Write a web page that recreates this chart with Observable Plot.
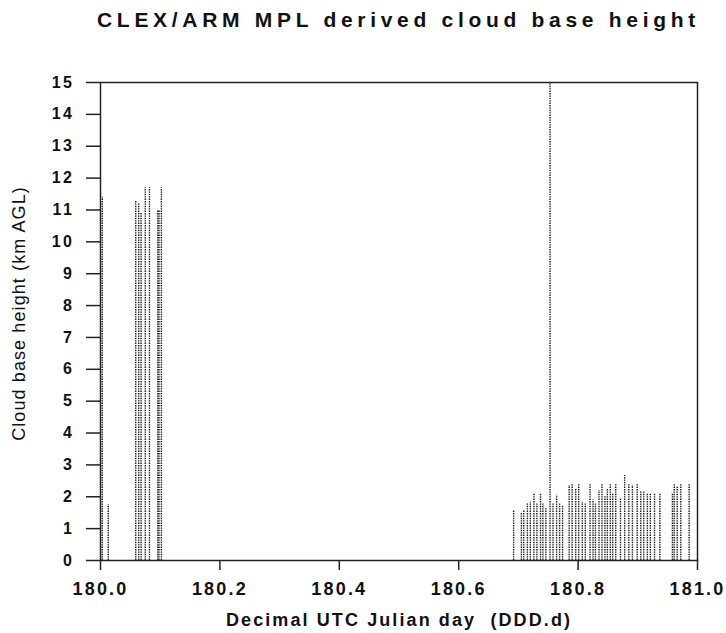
<!DOCTYPE html>
<html><head><meta charset="utf-8">
<script src="https://cdn.jsdelivr.net/npm/d3@7"></script>
<script src="https://cdn.jsdelivr.net/npm/@observablehq/plot@0.6"></script>
<style>
body{margin:0;background:#fff;font-family:"Liberation Sans",Arial,sans-serif;}
#wrap{position:relative;width:726px;height:633px;overflow:hidden;}
#title{position:absolute;left:97px;width:610px;top:8px;text-align:left;font-weight:bold;font-size:21px;letter-spacing:4.7px;color:#111;white-space:nowrap;}
#chart{position:absolute;left:0;top:50px;}
#chart svg{overflow:visible;}
#chart g[aria-label="x-axis tick label"] text{font-size:18px;font-weight:bold;letter-spacing:2.2px;}
#chart g[aria-label="y-axis tick label"] text{font-size:16px;font-weight:bold;letter-spacing:2.5px;}
</style></head><body>
<div id="wrap"><div id="title"></div><div id="chart"></div></div>
<script>
const titleText = "CLEX/ARM MPL derived cloud base height";
const xLabel = "Decimal UTC Julian day  (DDD.d)";
const yLabel = "Cloud base height (km AGL)";
const xTicks = [180.0, 180.2, 180.4, 180.6, 180.8, 181.0];
const yTicks = [0,1,2,3,4,5,6,7,8,9,10,11,12,13,14,15];
// decimal day of each detection and its cloud base height (km)
const times = [
  180.003, 180.013, 180.059, 180.064, 180.068, 180.075, 180.082, 180.096, 180.098, 180.102,
  180.692, 180.705, 180.709, 180.715, 180.720, 180.726, 180.731, 180.737, 180.741, 180.746,
  180.753, 180.758, 180.764, 180.769, 180.774, 180.785, 180.790, 180.796, 180.801, 180.807,
  180.812, 180.820, 180.825, 180.829, 180.835, 180.840, 180.845, 180.849, 180.854, 180.858,
  180.863, 180.871, 180.878, 180.885, 180.891, 180.899, 180.905, 180.910, 180.916, 180.921,
  180.928, 180.937, 180.958, 180.961, 180.966, 180.972, 180.986
];
const heights = [
  11.4, 1.75, 11.3, 11.2, 10.9, 11.7, 11.7, 11.0, 11.0, 11.7,
  1.55, 1.48, 1.55, 1.78, 1.83, 2.09, 1.78, 2.09, 1.78, 1.65,
  15.0, 1.8, 2.05, 1.78, 1.7, 2.35, 2.4, 2.25, 2.4, 1.83,
  1.78, 2.4, 1.9, 1.78, 2.2, 2.4, 2.0, 2.25, 2.4, 2.1,
  2.4, 1.94, 2.67, 2.4, 2.35, 2.4, 2.15, 2.15, 2.1, 2.1,
  2.1, 2.1, 2.1, 2.4, 2.3, 2.4, 2.4
];
const data = times.map((t, i) => ({t, h: heights[i]}));
document.getElementById("title").textContent = titleText;

const chart = Plot.plot({
  width: 726,
  height: 583,
  marginLeft: 100,
  marginRight: 29,
  marginTop: 32,
  marginBottom: 73,
  style: {fontFamily: "'Liberation Sans', Arial, sans-serif", color: "#111", background: "#fff"},
  x: {domain: [180, 181]},
  y: {domain: [0, 15]},
  marks: [
    Plot.ruleX(data, {x: "t", y1: 0, y2: "h", stroke: "#1a1a1a", strokeWidth: 1.4, strokeDasharray: "1.4,1"}),
    Plot.frame({stroke: "#222", strokeWidth: 1.5}),
    Plot.axisY({ticks: yTicks, tickSize: 14, tickPadding: 12, label: null, stroke: "#222", strokeWidth: 1.5}),
    Plot.axisX({ticks: xTicks, tickFormat: d => d.toFixed(1), tickSize: 10, tickPadding: 12, label: null, stroke: "#222", strokeWidth: 1.5}),
    Plot.text([xLabel], {frameAnchor: "bottom", textAnchor: "middle", lineAnchor: "middle", dy: 60, text: d => d, fontSize: 18, fontWeight: "bold", fill: "#111"}),
    Plot.text([yLabel], {frameAnchor: "left", textAnchor: "middle", lineAnchor: "middle", dx: -81, dy: -8, rotate: -90, text: d => d, fontSize: 18, fill: "#111"})
  ]
});
d3.select(chart).selectAll("text").each(function() {
  const s = this.textContent;
  if (s === xLabel) this.style.letterSpacing = "2.1px";
  if (s === yLabel) this.style.letterSpacing = "1.1px";
});
document.getElementById("chart").appendChild(chart);
</script>
</body></html>
